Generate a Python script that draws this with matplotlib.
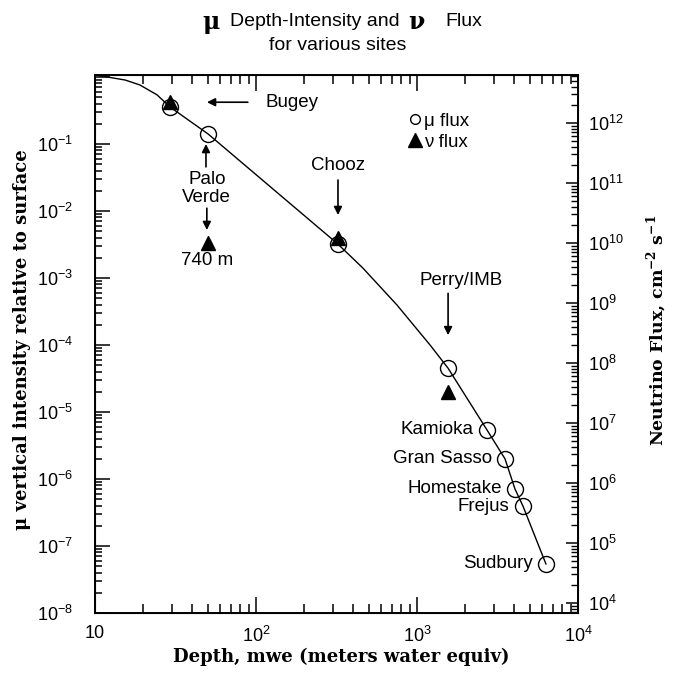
import math
import matplotlib
matplotlib.use("Agg")
import matplotlib.pyplot as plt
from matplotlib.lines import Line2D
from matplotlib.ticker import LogLocator, FuncFormatter, NullFormatter

plt.rcParams['font.family'] = ['Liberation Sans', 'DejaVu Sans']

# fitted depth-intensity curve
curve_depth = [10, 11.9, 15.4, 19.0, 24.3, 29.2, 50.4, 323, 462, 751, 1205, 1560, 2720, 3520, 4060, 4550, 6320]
curve_int = [1.07, 1.0, 0.90, 0.76, 0.54, 0.357, 0.141, 3.2e-3, 1.40e-3, 3.95e-4, 1.0e-4, 4.5e-5,
             5.4e-6, 2.0e-6, 7.1e-7, 3.95e-7, 5.4e-8]

# mu flux at the sites (open circles)
mu_sites = ['Bugey', 'Palo Verde', 'Chooz', 'Perry/IMB', 'Kamioka', 'Gran Sasso', 'Homestake', 'Frejus', 'Sudbury']
mu_depth = [29.2, 50.4, 323, 1560, 2720, 3520, 4060, 4550, 6320]
mu_int = [0.357, 0.141, 3.2e-3, 4.5e-5, 5.4e-6, 2.0e-6, 7.1e-7, 3.95e-7, 5.4e-8]

# nu flux (filled triangles)
nu_depth = [29.2, 50.4, 323, 1560]
nu_int = [0.42, 3.3e-3, 4.0e-3, 2.0e-5]

xticks = [10, 100, 1000, 10000]
xticklabels = ['10', '$\\mathregular{10^{2}}$', '$\\mathregular{10^{3}}$', '$\\mathregular{10^{4}}$']


def pow10(v, p):
    return '$\\mathregular{10^{%d}}$' % round(math.log10(v))


W, H = 680, 688
fig = plt.figure(figsize=(W / 100, H / 100), dpi=100)
ax = fig.add_axes([95 / W, 1 - 613 / H, 483 / W, 538 / H])

ax.plot(curve_depth, curve_int, color='k', lw=1.0, zorder=2)
ax.plot(mu_depth, mu_int, 'o', ms=11.5, mfc='none', mec='k', mew=1.0, zorder=3)
ax.plot(nu_depth, nu_int, '^', ms=9.5, color='k', zorder=4)

ax.set_xscale('log')
ax.set_yscale('log')
ax.set_xlim(10, 1e4)
ax.set_ylim(1e-8, 1.07)

ax.set_xticks(xticks)
ax.set_xticklabels(xticklabels)
ax.xaxis.set_minor_locator(LogLocator(base=10, subs=range(2, 10), numticks=20))
ax.xaxis.set_minor_formatter(NullFormatter())
ax.yaxis.set_major_locator(LogLocator(base=10, numticks=20))
ax.yaxis.set_minor_locator(LogLocator(base=10, subs=range(2, 10), numticks=20))
ax.yaxis.set_minor_formatter(NullFormatter())
ax.yaxis.set_major_formatter(FuncFormatter(lambda v, p: '' if v >= 1 else pow10(v, p)))

ax.tick_params(axis='both', which='both', direction='in', top=True, right=False, labelsize=13, width=1.1)
ax.tick_params(axis='x', which='major', length=11.5, pad=9)
ax.tick_params(axis='x', which='minor', length=6.5)
ax.tick_params(axis='y', which='major', length=11, pad=16)
ax.tick_params(axis='y', which='minor', length=5)
for s in ax.spines.values():
    s.set_linewidth(1.4)

# right axis: neutrino flux
ax2 = ax.twinx()
ax2.set_yscale('log')
ax2.set_ylim(10 ** 3.833, 10 ** 12.8)
ax2.yaxis.set_major_locator(LogLocator(base=10, numticks=20))
ax2.yaxis.set_minor_locator(LogLocator(base=10, subs=range(2, 10), numticks=20))
ax2.yaxis.set_minor_formatter(NullFormatter())
ax2.yaxis.set_major_formatter(FuncFormatter(pow10))
ax2.tick_params(axis='y', which='major', direction='in', length=8.5, width=1.1, labelsize=13, pad=7)
ax2.tick_params(axis='y', which='minor', direction='in', length=5, width=1.0)

# annotations
arrow = dict(arrowstyle='-|>', color='k', lw=1.2, mutation_scale=12, shrinkA=0, shrinkB=0)
ax.annotate('', xy=(49.6, 0.42), xytext=(89, 0.42), arrowprops=arrow)
ax.text(114, 0.42, 'Bugey', fontsize=13.5, va='center', ha='left')

ax.annotate('', xy=(48.9, 0.1), xytext=(48.9, 0.0455), arrowprops=arrow)
ax.text(49.5, 0.0215, 'Palo\nVerde', fontsize=13.5, va='center', ha='center', linespacing=1.1)
ax.annotate('', xy=(49.5, 5.2e-3), xytext=(49.5, 0.011), arrowprops=arrow)
ax.text(50, 1.84e-3, '740 m', fontsize=13.5, va='center', ha='center')

ax.text(323, 0.0485, 'Chooz', fontsize=13.5, va='center', ha='center')
ax.annotate('', xy=(323, 8.7e-3), xytext=(323, 0.029), arrowprops=arrow)

ax.text(1875, 9.3e-4, 'Perry/IMB', fontsize=13.5, va='center', ha='center')
ax.annotate('', xy=(1560, 1.4e-4), xytext=(1560, 5.9e-4), arrowprops=arrow)

for name, d, v in zip(mu_sites[4:], mu_depth[4:], mu_int[4:]):
    ax.annotate(name, xy=(d, v), xytext=(-9.5, 0), textcoords='offset points',
                ha='right', va='center', fontsize=13.5)

handles = [Line2D([], [], ls='none', marker='o', ms=7, mfc='none', mec='k', mew=1.0),
           Line2D([], [], ls='none', marker='^', ms=9.5, color='k')]
ax.legend(handles, ['\u03bc flux', '\u03bd flux'], loc='upper left', bbox_to_anchor=(0.647, 0.93),
          frameon=False, fontsize=13.5, handlelength=0.8, handletextpad=0.1, labelspacing=0.2,
          borderpad=0, borderaxespad=0)

# titles and axis labels
serif = dict(family='DejaVu Serif', weight='bold')
fig.text(202 / W, 1 - 22 / H, '\u03bc', fontsize=17, va='center', ha='left', **serif)
fig.text(230 / W, 1 - 22 / H, 'Depth-Intensity and', fontsize=14, va='center', ha='left')
fig.text(408 / W, 1 - 22 / H, '\u03bd', fontsize=17, va='center', ha='left', **serif)
fig.text(445 / W, 1 - 22 / H, 'Flux', fontsize=14, va='center', ha='left')
fig.text(338 / W, 1 - 45 / H, 'for various sites', fontsize=14, va='center', ha='center')

fig.text(341 / W, 1 - 657 / H, 'Depth, mwe (meters water equiv)', fontsize=13,
         va='center', ha='center', **serif)
fig.text(22 / W, 1 - 340 / H, '\u03bc vertical intensity relative to surface', fontsize=13,
         rotation=90, va='center', ha='center', **serif)
fig.text(657 / W, 1 - 330 / H, 'Neutrino Flux, cm$^{\\mathregular{-2}}$ s$^{\\mathregular{-1}}$',
         fontsize=12.5, rotation=90, va='center', ha='center', **serif)

fig.savefig('out.png', dpi=100)
